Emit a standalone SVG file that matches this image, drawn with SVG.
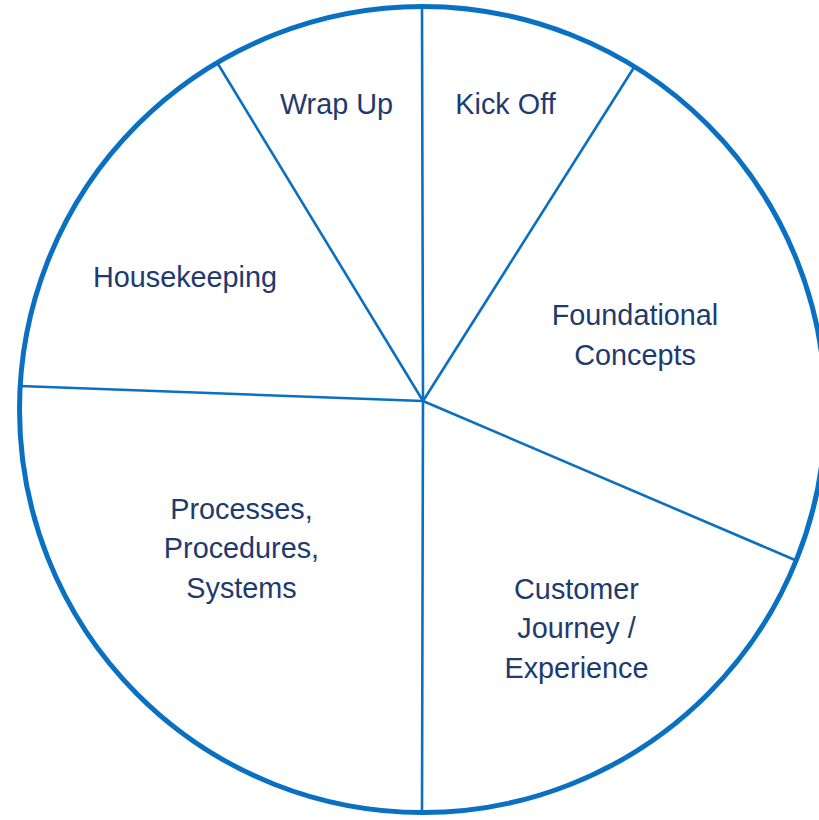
<svg xmlns="http://www.w3.org/2000/svg" width="819" height="820" viewBox="0 0 819 820">
  <style>
    .rim { fill: #ffffff; stroke: #0A70C2; stroke-width: 5; }
    .divider { stroke: #0A70C2; stroke-width: 2.6; stroke-linecap: round; fill: none; }
    .label { font-family: "Liberation Sans", Arial, sans-serif; font-size: 28.8px; fill: #1E3A6E; text-anchor: middle; }
  </style>
  <rect width="819" height="820" fill="#ffffff"/>

  <!-- outer rim of the pie (its right edge runs past the canvas) -->
  <circle id="rim" class="rim" cx="422.5" cy="409.5" r="403"/>

  <!-- slice dividers, all radiating from the hub -->
  <g id="connectors">
    <line class="divider" x1="423" y1="401" x2="422" y2="8"/>
    <line class="divider" x1="423" y1="401" x2="633" y2="69"/>
    <line class="divider" x1="423" y1="401" x2="795" y2="560"/>
    <line class="divider" x1="423" y1="401" x2="422" y2="811"/>
    <line class="divider" x1="423" y1="401" x2="20" y2="386"/>
    <line class="divider" x1="423" y1="401" x2="218" y2="64"/>
  </g>

  <g id="kick-off">
    <text class="label" x="505.5" y="114">Kick Off</text>
  </g>
  <g id="foundational-concepts">
    <text class="label" x="635" y="325">Foundational</text>
    <text class="label" x="635" y="365">Concepts</text>
  </g>
  <g id="customer-journey">
    <text class="label" x="576.5" y="599">Customer</text>
    <text class="label" x="576.5" y="638">Journey /</text>
    <text class="label" x="576.5" y="678">Experience</text>
  </g>
  <g id="processes">
    <text class="label" x="241.5" y="519">Processes,</text>
    <text class="label" x="241.5" y="558">Procedures,</text>
    <text class="label" x="241.5" y="598">Systems</text>
  </g>
  <g id="housekeeping">
    <text class="label" x="185" y="287">Housekeeping</text>
  </g>
  <g id="wrap-up">
    <text class="label" x="336.5" y="114">Wrap Up</text>
  </g>
</svg>
